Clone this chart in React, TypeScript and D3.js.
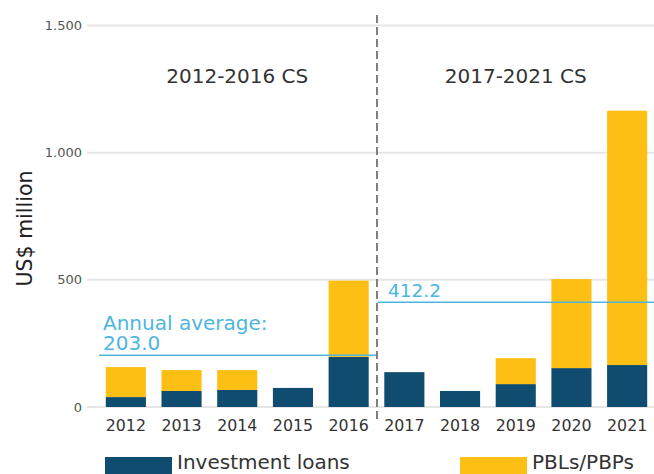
import React from "react";
import * as d3 from "d3";

const years = ["2012","2013","2014","2015","2016","2017","2018","2019","2020","2021"];
const investmentLoans = [39, 63, 67, 75, 197, 137, 63, 90, 153, 165];
const pbls = [118, 82, 78, 0, 300, 0, 0, 102, 350, 1000];
const yTicks = [0, 500, 1000, 1500];
const yTickLabels = ["0", "500", "1.000", "1.500"];
const periods = [
  { label: "2012-2016 CS", from: "2012", to: "2016", avg: 203.0, avgLabel: ["Annual average:", "203.0"] },
  { label: "2017-2021 CS", from: "2017", to: "2021", avg: 412.2, avgLabel: ["412.2"] },
];

const W = 654, H = 474;
const FONT = "'DejaVu Sans', sans-serif";
const BLUE = "#0f4c6f";
const YELLOW = "#fdbf13";
const CYAN = "#4db6e0";

export default function App() {
  const x = d3.scaleBand<string>().domain(years).range([98, 655]).paddingInner(0.28).paddingOuter(0.14);
  const y = d3.scaleLinear().domain([0, 1500]).range([407, 25.5]);
  const divX = 377;
  return (
    <svg width={W} height={H} style={{ position: "absolute", left: 0, top: 0 }} fontFamily={FONT}>
      {yTicks.map((t, i) => (
        <g key={t}>
          <line x1={87} x2={W} y1={y(t)} y2={y(t)} stroke="#e6e6e6" strokeWidth={2} />
          <text x={82} y={y(t)} dy="0.35em" textAnchor="end" fontSize={13} fill="#555">{yTickLabels[i]}</text>
        </g>
      ))}
      <text transform={`translate(32,${228.5}) rotate(-90)`} textAnchor="middle" fontSize={20.5} fill="#222">US$ million</text>
      {years.map((yr, i) => (
        <g key={yr}>
          <rect x={x(yr)} width={x.bandwidth()} y={y(investmentLoans[i])} height={y(0) - y(investmentLoans[i])} fill={BLUE} />
          {pbls[i] > 0 && (
            <rect x={x(yr)} width={x.bandwidth()} y={y(investmentLoans[i] + pbls[i])} height={y(investmentLoans[i]) - y(investmentLoans[i] + pbls[i])} fill={YELLOW} />
          )}
          <text x={(x(yr) as number) + x.bandwidth() / 2} y={430.5} textAnchor="middle" fontSize={15.8} fill="#333">{yr}</text>
        </g>
      ))}
      {periods.map((p, i) => {
        const x0 = i === 0 ? 99 : divX + 1;
        const x1 = i === 0 ? divX - 1 : W;
        const cx = (((x(p.from) as number) + (x(p.to) as number) + x.bandwidth()) / 2);
        return (
          <g key={p.label}>
            <text x={cx} y={83} textAnchor="middle" fontSize={20} fill="#333">{p.label}</text>
            <line x1={x0} x2={x1} y1={y(p.avg)} y2={y(p.avg)} stroke={CYAN} strokeWidth={1.5} />
            {p.avgLabel.map((l, j) => (
              <text key={j} x={i === 0 ? 103 : 388} y={y(p.avg) - 5.5 - (p.avgLabel.length - 1 - j) * 19.5} fontSize={i === 0 ? 20 : 18.5} fill={CYAN}>{l}</text>
            ))}
          </g>
        );
      })}
      <line x1={divX} x2={divX} y1={15} y2={420} stroke="#808080" strokeWidth={2} strokeDasharray="8 4" />
      <rect x={105} y={457} width={67} height={20} fill={BLUE} />
      <text x={177} y={469} fontSize={20} fill="#333">Investment loans</text>
      <rect x={460} y={457} width={67} height={20} fill={YELLOW} />
      <text x={532} y={469} fontSize={20} fill="#333">PBLs/PBPs</text>
    </svg>
  );
}
